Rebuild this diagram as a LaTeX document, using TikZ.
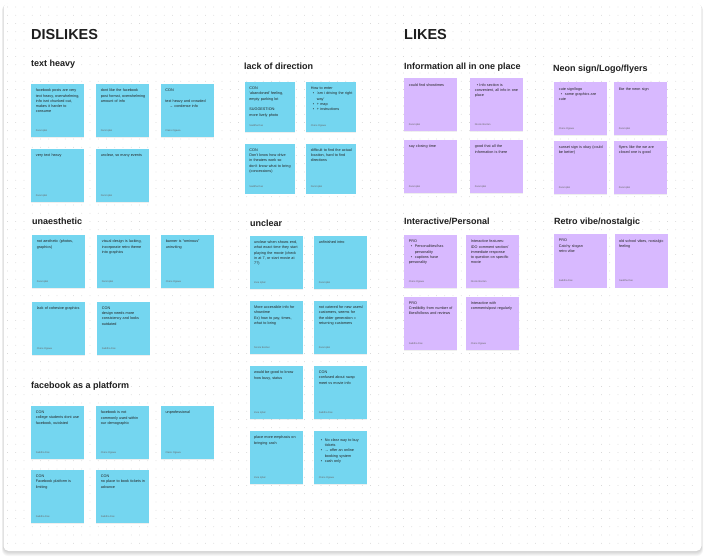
\documentclass[tikz,border=0pt]{standalone}
\usepackage{fontspec}
\setmainfont{Liberation Sans}
\usetikzlibrary{shadows}
\definecolor{noteblue}{RGB}{116,214,240}
\definecolor{notepurple}{RGB}{216,185,255}
\definecolor{inkc}{RGB}{30,30,30}
\definecolor{notetextc}{RGB}{35,35,35}
\definecolor{authc}{RGB}{105,105,105}
\definecolor{dotc}{RGB}{196,196,196}
\hyphenpenalty=10000
\exhyphenpenalty=10000
\newcommand\notebullet[1]{\par\hangindent=6pt\hangafter=1\hspace*{2pt}\makebox[4pt][l]{\textbullet}#1}
\begin{document}
\begin{tikzpicture}[x=1pt,y=-1pt,
    note/.style={minimum width=53pt, minimum height=53pt, inner sep=0pt, anchor=north west,
      drop shadow={opacity=0.12, shadow xshift=0pt, shadow yshift=-0.8pt}},
    bluenote/.style={note, fill=noteblue},
    smallnote/.style={note, fill=noteblue, minimum width=50pt, minimum height=50pt},
    purplenote/.style={note, fill=notepurple},
    notetext/.style={anchor=north west, inner sep=0pt, xshift=4.7pt, yshift=-4.8pt, text width=44.5pt,
      align=left, font=\fontsize{3.75}{5.3}\selectfont, text=notetextc},
    smalltext/.style={notetext, text width=41.5pt},
    author/.style={anchor=base west, inner sep=0pt, xshift=4.7pt, yshift=6pt,
      font=\fontsize{2.5}{3}\selectfont, text=authc},
    heading/.style={anchor=base west, inner sep=0pt, font=\bfseries\fontsize{9}{10}\selectfont, text=inkc},
    bigtitle/.style={anchor=base west, inner sep=0pt, font=\bfseries\fontsize{14.5}{16}\selectfont, text=inkc}]

  \fill[white] (0,0) rectangle (705,559);
  \foreach \d in {1,...,5}
    \fill[black, opacity=0.035, rounded corners=6pt] ({3.5-\d*0.3},{3+\d*0.3}) rectangle ({701.5+\d*0.3},{551+\d});
  \fill[white, rounded corners=5pt] (3.5,3) rectangle (701.5,551);
  \foreach \x in {7.5,15.75,...,698}
    \foreach \y in {7,15.25,...,548}
      \fill[dotc] (\x,\y) circle (0.45pt);

  \node[bigtitle] (dislikes) at (31,40) {DISLIKES};
  \node[bigtitle] (likes) at (404,40) {LIKES};

  \node[heading] (textheavy) at (31,67) {text heavy};
  \node[heading] (direction) at (244,70) {lack of direction};
  \node[heading] (unaesthetic) at (32,225) {unaesthetic};
  \node[heading] (unclear) at (250,226) {unclear};
  \node[heading] (facebook) at (31,388) {facebook as a platform};
  \node[heading] (oneplace) at (404,70) {Information all in one place};
  \node[heading] (neon) at (553,71.5) {Neon sign/Logo/flyers};
  \node[heading] (interactive) at (404,225) {Interactive/Personal};
  \node[heading] (retro) at (554,225) {Retro vibe/nostalgic};

  \node[bluenote] (th1) at (31,84) {};
  \node[notetext] (th1t) at (th1.north west) {facebook posts are very text heavy, overwhelming, info isnt chunked out, makes it harder to consume};
  \node[author] (th1a) at (th1.south west) {Zara Iqbal};
  \node[bluenote] (th2) at (96,84) {};
  \node[notetext] (th2t) at (th2.north west) {dont like the facebook post format, overwhelming amount of info};
  \node[author] (th2a) at (th2.south west) {Dani Iqbal};
  \node[bluenote] (th3) at (160.5,84) {};
  \node[notetext] (th3t) at (th3.north west) {CON\\[5.3pt] text heavy and crowded\\ \hspace*{4pt}→ condense info};
  \node[author] (th3a) at (th3.south west) {Claire Ogawa};
  \node[bluenote] (th4) at (31,149) {};
  \node[notetext] (th4t) at (th4.north west) {very text heavy};
  \node[author] (th4a) at (th4.south west) {Zara Iqbal};
  \node[bluenote] (th5) at (96,149) {};
  \node[notetext] (th5t) at (th5.north west) {unclear, so many events};
  \node[author] (th5a) at (th5.south west) {Dani Iqbal};

  \node[bluenote] (ua1) at (32,235) {};
  \node[notetext] (ua1t) at (ua1.north west) {not aesthetic (photos, graphics)};
  \node[author] (ua1a) at (ua1.south west) {Zara Iqbal};
  \node[bluenote] (ua2) at (97,235) {};
  \node[notetext] (ua2t) at (ua2.north west) {visual design is lacking, incorporate retro theme into graphics};
  \node[author] (ua2a) at (ua2.south west) {Dani Iqbal};
  \node[bluenote] (ua3) at (161,235) {};
  \node[notetext] (ua3t) at (ua3.north west) {banner is “ominous” uninviting};
  \node[author] (ua3a) at (ua3.south west) {Claire Ogawa};
  \node[bluenote] (ua4) at (32,301.7) {};
  \node[notetext] (ua4t) at (ua4.north west) {lack of cohesive graphics};
  \node[author] (ua4a) at (ua4.south west) {Claire Ogawa};
  \node[bluenote] (ua5) at (97,301.7) {};
  \node[notetext] (ua5t) at (ua5.north west) {CON\\ design needs more consistency and looks outdated};
  \node[author] (ua5a) at (ua5.south west) {Saddha Das};

  \node[bluenote] (fb1) at (31,406) {};
  \node[notetext] (fb1t) at (fb1.north west) {CON\\ college students dont use facebook, outdated};
  \node[author] (fb1a) at (fb1.south west) {Saddha Das};
  \node[bluenote] (fb2) at (96,406) {};
  \node[notetext] (fb2t) at (fb2.north west) {facebook is not commonly used within our demographic};
  \node[author] (fb2a) at (fb2.south west) {Claire Ogawa};
  \node[bluenote] (fb3) at (160.7,406) {};
  \node[notetext] (fb3t) at (fb3.north west) {unprofessional};
  \node[author] (fb3a) at (fb3.south west) {Claire Ogawa};
  \node[bluenote] (fb4) at (31,470) {};
  \node[notetext] (fb4t) at (fb4.north west) {CON\\ Facebook platform is limiting};
  \node[author] (fb4a) at (fb4.south west) {Saddha Das};
  \node[bluenote] (fb5) at (96,470) {};
  \node[notetext] (fb5t) at (fb5.north west) {CON\\ no place to book tickets in advance};
  \node[author] (fb5a) at (fb5.south west) {Saddha Das};

  \node[smallnote] (ld1) at (244.5,82) {};
  \node[smalltext] (ld1t) at (ld1.north west) {CON\\ ‘abandoned’ feeling, empty parking lot\\[5.3pt] SUGGESTION:\\ more lively photo};
  \node[author] (ld1a) at (ld1.south west) {Saddha Das};
  \node[smallnote] (ld2) at (306,82) {};
  \node[smalltext] (ld2t) at (ld2.north west) {How to enter
    \notebullet{‘am i driving the right way’}
    \notebullet{+ map}
    \notebullet{+ instructions}};
  \node[author] (ld2a) at (ld2.south west) {Claire Ogawa};
  \node[smallnote] (ld3) at (244.5,143.5) {};
  \node[smalltext] (ld3t) at (ld3.north west) {CON\\ Don’t know how drive in theaters work so don’t know what to bring (concessions)};
  \node[author] (ld3a) at (ld3.south west) {Saddha Das};
  \node[smallnote] (ld4) at (306,143.5) {};
  \node[smalltext] (ld4t) at (ld4.north west) {difficult to find the actual location, hard to find directions};
  \node[author] (ld4a) at (ld4.south west) {Dani Iqbal};

  \node[bluenote] (uc1) at (249.3,235.7) {};
  \node[notetext] (uc1t) at (uc1.north west) {unclear when shows end, what exact time they start playing the movie (check in at 7, or start movie at 7?)};
  \node[author] (uc1a) at (uc1.south west) {Zara Iqbal};
  \node[bluenote] (uc2) at (314,235.7) {};
  \node[notetext] (uc2t) at (uc2.north west) {unfinished intro};
  \node[author] (uc2a) at (uc2.south west) {Zara Iqbal};
  \node[bluenote] (uc3) at (249.3,300.7) {};
  \node[notetext] (uc3t) at (uc3.north west) {More accessible info for showtime\\ Ex) how to pay, times, what to bring};
  \node[author] (uc3a) at (uc3.south west) {Nicole Borden};
  \node[bluenote] (uc4) at (314,300.7) {};
  \node[notetext] (uc4t) at (uc4.north west) {not catered for new users/ customers, seems for the older generation = returning customers};
  \node[author] (uc4a) at (uc4.south west) {Zara Iqbal};
  \node[bluenote] (uc5) at (249.3,366) {};
  \node[notetext] (uc5t) at (uc5.north west) {would be good to know how busy, status};
  \node[author] (uc5a) at (uc5.south west) {Zara Iqbal};
  \node[bluenote] (uc6) at (314,366) {};
  \node[notetext] (uc6t) at (uc6.north west) {CON\\ confused about swap meet vs movie info};
  \node[author] (uc6a) at (uc6.south west) {Saddha Das};
  \node[bluenote] (uc7) at (249.3,431) {};
  \node[notetext] (uc7t) at (uc7.north west) {place more emphasis on bringing cash};
  \node[author] (uc7a) at (uc7.south west) {Zara Iqbal};
  \node[bluenote] (uc8) at (314,431) {};
  \node[notetext] (uc8t) at (uc8.north west) {\notebullet{No clear way to buy tickets}
    \notebullet{→ offer an online booking system}
    \notebullet{cash only}};
  \node[author] (uc8a) at (uc8.south west) {Claire Ogawa};

  \node[purplenote] (io1) at (404,78.3) {};
  \node[notetext] (io1t) at (io1.north west) {could find showtimes};
  \node[author] (io1a) at (io1.south west) {Zara Iqbal};
  \node[purplenote] (io2) at (470,78.3) {};
  \node[notetext] (io2t) at (io2.north west) {\hspace*{2pt}\textbullet\ Info section is convenient, all info in one place};
  \node[author] (io2a) at (io2.south west) {Nicole Borden};
  \node[purplenote] (io3) at (404,140) {};
  \node[notetext] (io3t) at (io3.north west) {say closing time};
  \node[author] (io3a) at (io3.south west) {Zara Iqbal};
  \node[purplenote] (io4) at (470,140) {};
  \node[notetext] (io4t) at (io4.north west) {good that all the information is there};
  \node[author] (io4a) at (io4.south west) {Zara Iqbal};

  \node[purplenote] (ns1) at (554,82.3) {};
  \node[notetext] (ns1t) at (ns1.north west) {cute sign/logo
    \notebullet{some graphics are cute}};
  \node[author] (ns1a) at (ns1.south west) {Claire Ogawa};
  \node[purplenote] (ns2) at (614,82.3) {};
  \node[notetext] (ns2t) at (ns2.north west) {like the neon sign};
  \node[author] (ns2a) at (ns2.south west) {Zara Iqbal};
  \node[purplenote] (ns3) at (554,140.7) {};
  \node[notetext] (ns3t) at (ns3.north west) {sunset sign is okay (could be better)};
  \node[author] (ns3a) at (ns3.south west) {Zara Iqbal};
  \node[purplenote] (ns4) at (614,140.7) {};
  \node[notetext] (ns4t) at (ns4.north west) {flyers like the we are closed one is good};
  \node[author] (ns4a) at (ns4.south west) {Zara Iqbal};

  \node[purplenote] (ip1) at (404,235) {};
  \node[notetext] (ip1t) at (ip1.north west) {PRO
    \notebullet{Personalities/has personality}
    \notebullet{captions have personality}};
  \node[author] (ip1a) at (ip1.south west) {Claire Ogawa};
  \node[purplenote] (ip2) at (466,235) {};
  \node[notetext] (ip2t) at (ip2.north west) {Interactive features:\\ IDO comment section/ immediate response to question on specific movie};
  \node[author] (ip2a) at (ip2.south west) {Nicole Borden};
  \node[purplenote] (ip3) at (404,296.7) {};
  \node[notetext] (ip3t) at (ip3.north west) {PRO\\ Credibility from number of likes/follows and reviews};
  \node[author] (ip3a) at (ip3.south west) {Saddha Das};
  \node[purplenote] (ip4) at (466,296.7) {};
  \node[notetext] (ip4t) at (ip4.north west) {Interactive with comments/post regularly};
  \node[author] (ip4a) at (ip4.south west) {Claire Ogawa};

  \node[purplenote] (rv1) at (554,234.3) {};
  \node[notetext] (rv1t) at (rv1.north west) {PRO\\ Catchy slogan\\ retro vibe};
  \node[author] (rv1a) at (rv1.south west) {Saddha Das};
  \node[purplenote] (rv2) at (614.3,234.3) {};
  \node[notetext] (rv2t) at (rv2.north west) {old school vibes, nostalgic feeling};
  \node[author] (rv2a) at (rv2.south west) {Saddha Das};
\end{tikzpicture}
\end{document}
